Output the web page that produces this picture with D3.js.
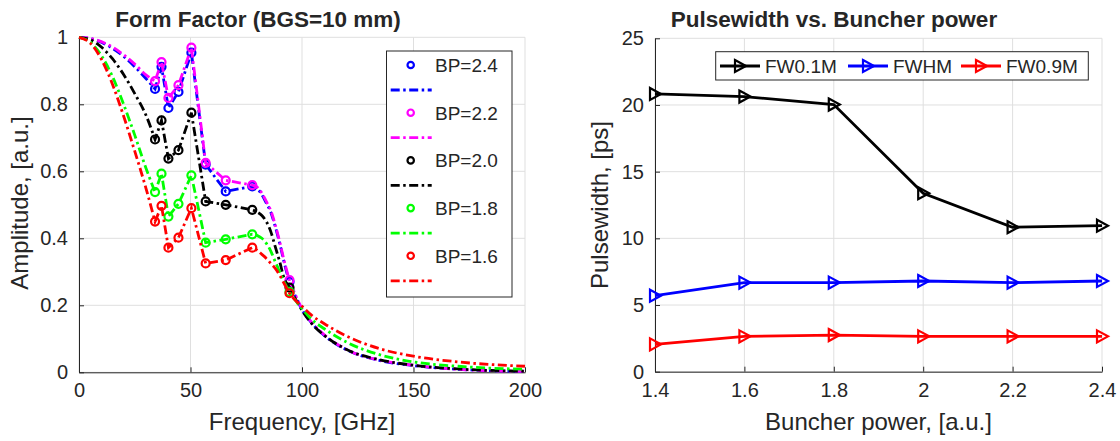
<!DOCTYPE html>
<html><head><meta charset="utf-8">
<script src="https://cdn.jsdelivr.net/npm/d3@7"></script>
<style>
body{margin:0;background:#fff}
text{font-family:"Liberation Sans",Arial,Helvetica,sans-serif;fill:#262626}
</style></head>
<body><svg id="c" width="1120" height="441"></svg>
<script>
// ---------- Left chart data ----------
const seriesNames  = ["BP=2.4","BP=2.2","BP=2.0","BP=1.8","BP=1.6"];
const seriesColors = ["#0000ff","#ff00ff","#000000","#00ff00","#ff0000"];
// measured points (frequency in GHz)
const freqPts = [34.1, 37.0, 40.1, 44.6, 50.4, 56.8, 65.8, 77.7, 94.4];
const ampBP24 = [0.846, 0.912, 0.789, 0.837, 0.954, 0.620, 0.540, 0.555, 0.270];
const ampBP22 = [0.869, 0.926, 0.819, 0.857, 0.969, 0.625, 0.573, 0.559, 0.275];
const ampBP20 = [0.695, 0.752, 0.638, 0.663, 0.775, 0.510, 0.500, 0.485, 0.253];
const ampBP18 = [0.538, 0.593, 0.465, 0.503, 0.588, 0.387, 0.397, 0.412, 0.240];
const ampBP16 = [0.450, 0.497, 0.372, 0.402, 0.490, 0.325, 0.335, 0.372, 0.236];
// fitted curve, low-frequency part
const startFreq = [0, 5, 10, 15, 20, 25, 30];
const startBP24 = [1, 0.996, 0.985, 0.967, 0.943, 0.912, 0.877];
const startBP22 = [1, 0.997, 0.987, 0.971, 0.948, 0.920, 0.888];
const startBP20 = [1, 0.993, 0.971, 0.936, 0.889, 0.832, 0.768];
const startBP18 = [1, 0.986, 0.946, 0.883, 0.800, 0.708, 0.610];
const startBP16 = [1, 0.983, 0.935, 0.860, 0.765, 0.660, 0.550];
// fitted curve, high-frequency part
const tailFreq = [80, 82, 84, 86, 88, 90, 92, 97, 100, 104, 110, 120, 135, 150, 170, 200];
const tailBP24 = [0.548, 0.530, 0.505, 0.478, 0.435, 0.385, 0.328, 0.228, 0.187, 0.150, 0.110, 0.067, 0.035, 0.020, 0.009, 0.003];
const tailBP22 = [0.552, 0.535, 0.510, 0.483, 0.440, 0.390, 0.333, 0.232, 0.190, 0.152, 0.112, 0.068, 0.036, 0.021, 0.009, 0.003];
const tailBP20 = [0.478, 0.468, 0.450, 0.420, 0.375, 0.330, 0.280, 0.220, 0.185, 0.148, 0.110, 0.068, 0.037, 0.021, 0.010, 0.003];
const tailBP18 = [0.408, 0.400, 0.385, 0.362, 0.330, 0.300, 0.270, 0.215, 0.190, 0.160, 0.130, 0.090, 0.052, 0.031, 0.018, 0.009];
const tailBP16 = [0.364, 0.352, 0.340, 0.325, 0.310, 0.290, 0.265, 0.215, 0.197, 0.172, 0.145, 0.108, 0.070, 0.048, 0.031, 0.018];
const xTicksL = [0, 50, 100, 150, 200];
const yTicksL = [0, 0.2, 0.4, 0.6, 0.8, 1];

// ---------- Right chart data ----------
const bpVals = [1.4, 1.6, 1.8, 2.0, 2.2, 2.4];
const fw01 = [20.83, 20.63, 20.03, 13.38, 10.83, 10.95];
const fwhm = [5.70, 6.68, 6.68, 6.80, 6.68, 6.80];
const fw09 = [2.05, 2.65, 2.75, 2.65, 2.65, 2.65];
const rNames = ["FW0.1M","FWHM","FW0.9M"];
const rColors = ["#000000","#0000ff","#ff0000"];
const xTicksR = [1.4, 1.6, 1.8, 2.0, 2.2, 2.4];
const yTicksR = [0, 5, 10, 15, 20, 25];

const svg = d3.select("#c");
const AX = "#262626", GRID = "#dfdfdf";

function frame(x, y, xt, yt, xfmt, yfmt) {
  const g = svg.append("g");
  const [x0, x1] = x.range(), [y0, y1] = y.range();
  g.selectAll(".gx").data(xt).join("line").attr("x1", d => x(d)).attr("x2", d => x(d))
    .attr("y1", y0).attr("y2", y1).attr("stroke", GRID).attr("stroke-width", 1);
  g.selectAll(".gy").data(yt).join("line").attr("y1", d => y(d)).attr("y2", d => y(d))
    .attr("x1", x0).attr("x2", x1).attr("stroke", GRID).attr("stroke-width", 1);
  const ax = g.append("g").attr("transform", `translate(0,${y0})`)
    .call(d3.axisBottom(x).tickValues(xt).tickFormat(xfmt).tickSizeInner(-5).tickSizeOuter(0).tickPadding(11));
  const ay = g.append("g").attr("transform", `translate(${x0},0)`)
    .call(d3.axisLeft(y).tickValues(yt).tickFormat(yfmt).tickSizeInner(-5).tickSizeOuter(0).tickPadding(11));
  [ax, ay].forEach(a => {
    a.select(".domain").attr("stroke", AX).attr("stroke-width", 1);
    a.selectAll(".tick line").attr("stroke", AX);
    a.selectAll("text").style("font-size", "20px").attr("fill", AX);
  });
  return g;
}

// ---------------- LEFT ----------------
const xL = d3.scaleLinear().domain([0, 200]).range([79, 525]);
const yL = d3.scaleLinear().domain([0, 1]).range([372.3, 37.3]);
frame(xL, yL, xTicksL, yTicksL, d => d3.format("")(d), d => d === 0 || d === 1 ? d : d3.format(".1f")(d));

const ampAll = [ampBP24, ampBP22, ampBP20, ampBP18, ampBP16];
const startAll = [startBP24, startBP22, startBP20, startBP18, startBP16];
const tailAll = [tailBP24, tailBP22, tailBP20, tailBP18, tailBP16];
const lineMono = d3.line().x(d => xL(d[0])).y(d => yL(d[1])).curve(d3.curveMonotoneX);
const lineLin = d3.line().x(d => xL(d[0])).y(d => yL(d[1]));
const DASH = "9,3.5,2.5,3.5";

const gL = svg.append("g");
seriesNames.forEach((n, i) => {
  const pts = freqPts.map((f, j) => [f, ampAll[i][j]]);
  const st = startFreq.map((f, j) => [f, startAll[i][j]]).concat([pts[0]]);
  const mid = pts.slice(0, 8);
  const tl = [pts[7]].concat(tailFreq.map((f, j) => [f, tailAll[i][j]]));
  tl.push(pts[8]); tl.sort((a, b) => a[0] - b[0]);
  const dPath = lineMono(st) + lineLin(mid).replace(/^M/, "L") + lineMono(tl).replace(/^M/, "L");
  gL.selectAll(null).data(pts).join("circle")
    .attr("cx", d => xL(d[0])).attr("cy", d => yL(d[1])).attr("r", 4)
    .attr("fill", "none").attr("stroke", seriesColors[i]).attr("stroke-width", 2.2);
  gL.append("path").attr("d", dPath).attr("fill", "none").attr("stroke", seriesColors[i])
    .attr("stroke-width", 2.8).attr("stroke-dasharray", DASH);
});

// left legend
const lg = svg.append("g");
lg.append("rect").attr("x", 386.5).attr("y", 51).attr("width", 125.5).attr("height", 246)
  .attr("fill", "#fff").attr("stroke", AX).attr("stroke-width", 1);
seriesNames.forEach((n, i) => {
  const yM = 65 + i * 47.7, yLn = yM + 25;
  lg.append("circle").attr("cx", 410.7).attr("cy", yM).attr("r", 3.2).attr("fill", "none")
    .attr("stroke", seriesColors[i]).attr("stroke-width", 2.2);
  lg.append("text").attr("x", 435).attr("y", yM).attr("dy", "0.36em").style("font-size", "19px")
    .attr("fill", "#000").text(n);
  lg.append("line").attr("x1", 390.7).attr("x2", 431.7).attr("y1", yLn).attr("y2", yLn)
    .attr("stroke", seriesColors[i]).attr("stroke-width", 2.8).attr("stroke-dasharray", DASH);
});

svg.append("text").attr("x", 258).attr("y", 27).attr("text-anchor", "middle")
  .style("font-size", "22.5px").style("font-weight", "bold").attr("fill", "#000").text("Form Factor (BGS=10 mm)");
svg.append("text").attr("x", 302).attr("y", 430).attr("text-anchor", "middle")
  .style("font-size", "24px").text("Frequency, [GHz]");
svg.append("text").attr("transform", "translate(28,203) rotate(-90)").attr("text-anchor", "middle")
  .style("font-size", "24px").text("Amplitude, [a.u.]");

// ---------------- RIGHT ----------------
const xR = d3.scaleLinear().domain([1.4, 2.4]).range([655, 1102]);
const yR = d3.scaleLinear().domain([0, 25]).range([371.7, 38.3]);
frame(xR, yR, xTicksR, yTicksR, d => d3.format("~g")(d), d => d);

const tri = "M-5,-6L6,0L-5,6Z";
const rAll = [fw01, fwhm, fw09];
const lineR = d3.line().x(d => xR(d[0])).y(d => yR(d[1]));
const gR = svg.append("g");
rNames.forEach((n, i) => {
  const pts = bpVals.map((b, j) => [b, rAll[i][j]]);
  gR.append("path").attr("d", lineR(pts)).attr("fill", "none").attr("stroke", rColors[i]).attr("stroke-width", 2.8);
  gR.selectAll(null).data(pts).join("path").attr("d", tri)
    .attr("transform", d => `translate(${xR(d[0])},${yR(d[1])})`)
    .attr("fill", "none").attr("stroke", rColors[i]).attr("stroke-width", 2.2);
});

// right legend
const rg = svg.append("g");
rg.append("rect").attr("x", 715.7).attr("y", 51.7).attr("width", 372.6).attr("height", 28.3)
  .attr("fill", "#fff").attr("stroke", AX).attr("stroke-width", 1);
const legX = [720, 848, 961];
rNames.forEach((n, i) => {
  const x = legX[i], y = 66;
  rg.append("line").attr("x1", x).attr("x2", x + 40).attr("y1", y).attr("y2", y)
    .attr("stroke", rColors[i]).attr("stroke-width", 2.8);
  rg.append("path").attr("d", tri).attr("transform", `translate(${x + 20},${y})`)
    .attr("fill", "none").attr("stroke", rColors[i]).attr("stroke-width", 2.2);
  rg.append("text").attr("x", x + 45).attr("y", y).attr("dy", "0.36em").style("font-size", "19px")
    .attr("fill", "#000").text(n);
});

svg.append("text").attr("x", 834).attr("y", 27).attr("text-anchor", "middle")
  .style("font-size", "22.5px").style("font-weight", "bold").attr("fill", "#000").text("Pulsewidth vs. Buncher power");
svg.append("text").attr("x", 878.5).attr("y", 430).attr("text-anchor", "middle")
  .style("font-size", "24px").text("Buncher power, [a.u.]");
svg.append("text").attr("transform", "translate(608,205) rotate(-90)").attr("text-anchor", "middle")
  .style("font-size", "24px").text("Pulsewidth, [ps]");
</script></body></html>
